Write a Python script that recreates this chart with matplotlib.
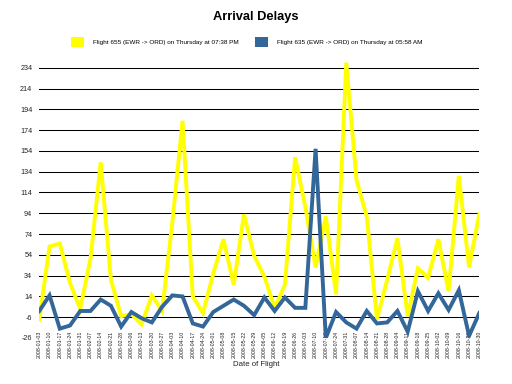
import datetime as dt

import matplotlib
matplotlib.use("Agg")
import matplotlib.pyplot as plt
from matplotlib.patches import Patch

plt.rcParams["font.family"] = ["Liberation Sans", "DejaVu Sans"]

# ── Data ──────────────────────────────────────────────────────────────────────

start = dt.date(2008, 1, 3)
dates = [(start + dt.timedelta(weeks=k)).isoformat() for k in range(44)]

flight_655 = [
    -8, 62, 65, 27, 2, 50, 143, 30, -5, -3,
    -13, 15, 0, 85, 183, 14, -2, 36, 69, 25,
    93, 53, 33, 3, 25, 148, 100, 42, 91, 16,
    239, 126, 91, -8, 30, 70, -5, 41, 32, 69,
    19, 130, 42, 93,
]
flight_635 = [
    0, 15, -17, -14, 0, 0, 11, 5, -15, -1,
    -7, -11, 4, 15, 14, -12, -15, -1, 5, 11,
    5, -4, 13, 0, 13, 3, 3, 156, -26, -1,
    -11, -17, 0, -12, -11, 0, -20, 19, 0, 17,
    1, 20, -24, -2,
]
yticks = list(range(-26, 235, 20))

label_655 = "Flight 655 (EWR -> ORD) on Thursday at 07:38 PM"
label_635 = "Flight 635 (EWR -> ORD) on Thursday at 05:58 AM"

YELLOW = "#ffff00"
BLUE = "#336699"

# ── Figure ────────────────────────────────────────────────────────────────────

fig = plt.figure(figsize=(5.12, 3.84), dpi=100)
ax = fig.add_axes([39.3 / 512, 46 / 384, 440 / 512, 0.72])

x = list(range(len(dates)))
ax.plot(x, flight_655, color=YELLOW, lw=2.8, zorder=3, solid_joinstyle="miter")
ax.plot(x, flight_635, color=BLUE, lw=2.8, zorder=4, solid_joinstyle="miter")

ax.set_xlim(0, len(dates) - 1)
ax.set_ylim(-26, 240)
ax.set_yticks(yticks)
ax.set_yticklabels([str(v) for v in yticks], fontsize=5.2, color="#222222")
ax.set_xticks(x)
ax.set_xticklabels(dates, rotation=90, fontsize=3.8, color="#222222")
ax.tick_params(axis="y", length=0, pad=5)
ax.tick_params(axis="x", length=0, pad=-5)

for v in yticks[1:]:
    ax.axhline(v, color="black", lw=0.75, zorder=1)

for s in ax.spines.values():
    s.set_visible(False)

fig.text(256 / 512, 1 - 365 / 384, "Date of Flight", ha="center", va="center",
         fontsize=5.6, color="#222222")

fig.text(0.5, 1 - 17 / 384, "Arrival Delays", ha="center", va="center",
         fontsize=9.3, fontweight="bold")

handles = [Patch(facecolor=YELLOW, edgecolor="none", label=label_655),
           Patch(facecolor=BLUE, edgecolor="none", label=label_635)]
fig.legend(handles=handles, loc="center", bbox_to_anchor=(247 / 512, 1 - 42 / 384),
           ncol=2, frameon=False, fontsize=4.6, handlelength=2.0, handleheight=2.0,
           handletextpad=1.4, columnspacing=2.6)

fig.savefig("out.png", dpi=100)
